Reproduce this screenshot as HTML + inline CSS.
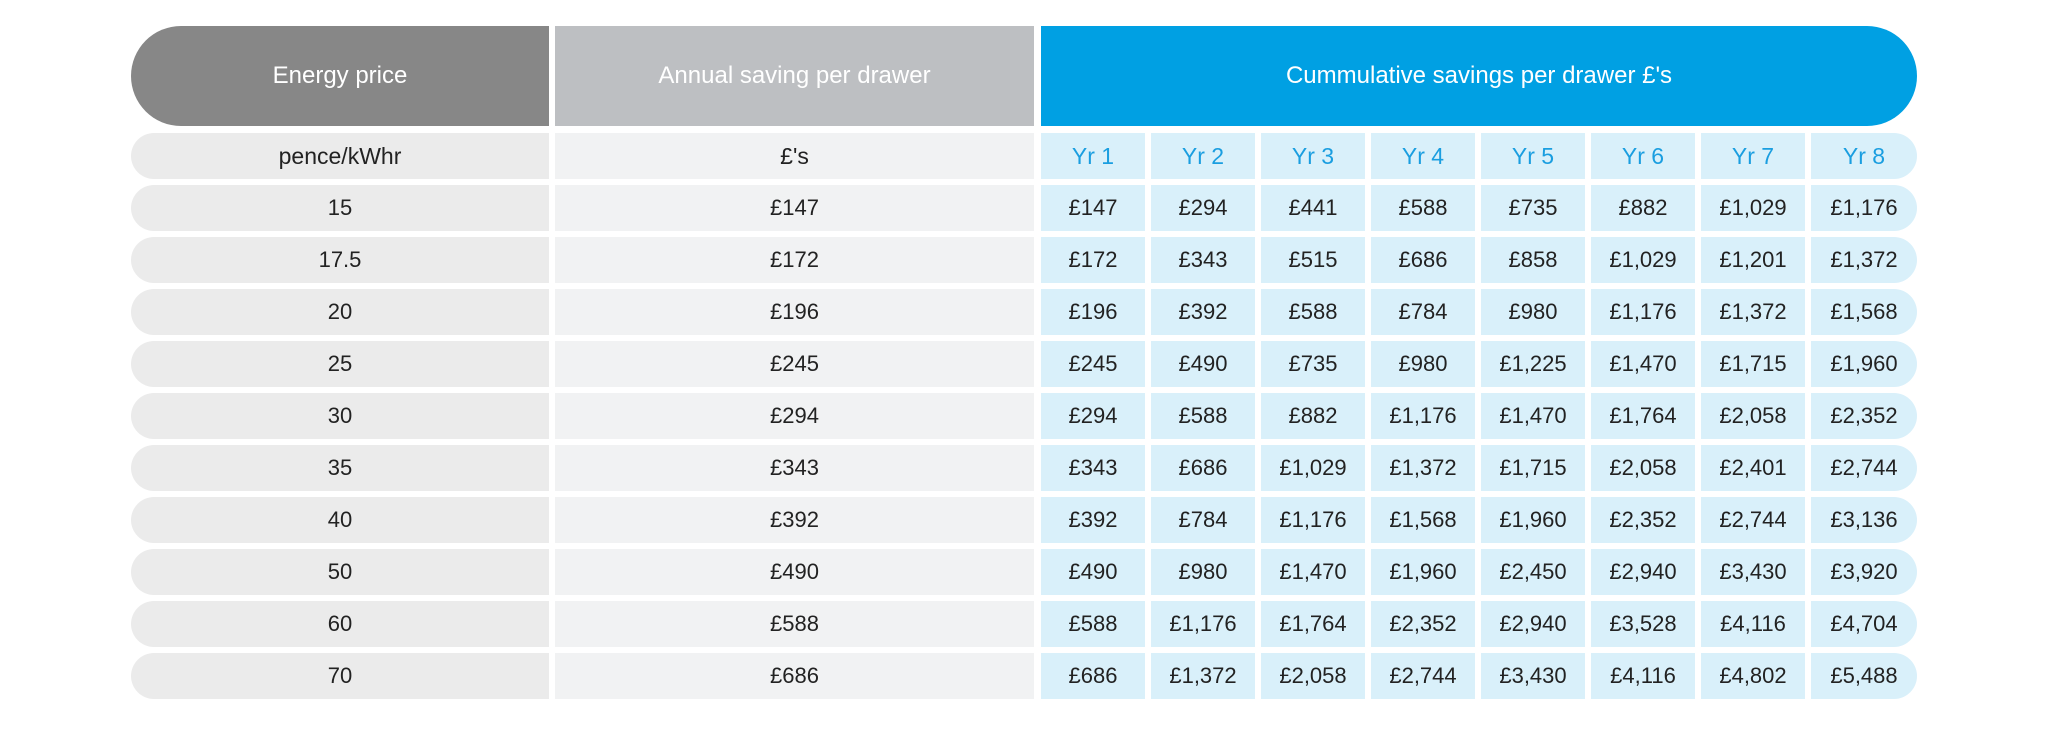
<!DOCTYPE html>
<html><head><meta charset="utf-8"><style>
body{margin:0;width:2048px;height:742px;background:#fff;position:relative;overflow:hidden;font-family:"Liberation Sans",sans-serif;}
.hd{position:absolute;top:26px;height:100px;color:#fff;font-size:24px;display:flex;align-items:center;justify-content:center;}
.row{position:absolute;left:131px;height:46px;display:flex;font-size:22px;color:#222;}
.row div{height:46px;display:flex;align-items:center;justify-content:center;}
.c1{width:418px;background:#ebebeb;border-radius:23px 0 0 23px;margin-right:6px;}
.c2{width:479px;background:#f1f2f3;margin-right:7px;}
.y{width:104px;background:#d9f0fa;margin-right:6px;}
.y:last-child{margin-right:0;width:106px;border-radius:0 23px 23px 0;}
.yr .y{color:#1a9ee0;font-size:23px;}
</style></head><body>
<div class="hd" style="left:131px;width:418px;background:#878787;border-radius:50px 0 0 50px/50px 0 0 50px;">Energy price</div>
<div class="hd" style="left:555px;width:479px;background:#bdbfc2;">Annual saving per drawer</div>
<div class="hd" style="left:1041px;width:876px;background:#00a0e3;border-radius:0 50px 50px 0;">Cummulative savings per drawer £'s</div>

<div class="row yr" style="top:133px"><div class="c1" style="font-size:23px">pence/kWhr</div><div class="c2" style="font-size:23px">£'s</div><div class="y">Yr 1</div><div class="y">Yr 2</div><div class="y">Yr 3</div><div class="y">Yr 4</div><div class="y">Yr 5</div><div class="y">Yr 6</div><div class="y">Yr 7</div><div class="y">Yr 8</div></div>
<div class="row" style="top:185px"><div class="c1">15</div><div class="c2">£147</div><div class="y">£147</div><div class="y">£294</div><div class="y">£441</div><div class="y">£588</div><div class="y">£735</div><div class="y">£882</div><div class="y">£1,029</div><div class="y">£1,176</div></div>
<div class="row" style="top:237px"><div class="c1">17.5</div><div class="c2">£172</div><div class="y">£172</div><div class="y">£343</div><div class="y">£515</div><div class="y">£686</div><div class="y">£858</div><div class="y">£1,029</div><div class="y">£1,201</div><div class="y">£1,372</div></div>
<div class="row" style="top:289px"><div class="c1">20</div><div class="c2">£196</div><div class="y">£196</div><div class="y">£392</div><div class="y">£588</div><div class="y">£784</div><div class="y">£980</div><div class="y">£1,176</div><div class="y">£1,372</div><div class="y">£1,568</div></div>
<div class="row" style="top:341px"><div class="c1">25</div><div class="c2">£245</div><div class="y">£245</div><div class="y">£490</div><div class="y">£735</div><div class="y">£980</div><div class="y">£1,225</div><div class="y">£1,470</div><div class="y">£1,715</div><div class="y">£1,960</div></div>
<div class="row" style="top:393px"><div class="c1">30</div><div class="c2">£294</div><div class="y">£294</div><div class="y">£588</div><div class="y">£882</div><div class="y">£1,176</div><div class="y">£1,470</div><div class="y">£1,764</div><div class="y">£2,058</div><div class="y">£2,352</div></div>
<div class="row" style="top:445px"><div class="c1">35</div><div class="c2">£343</div><div class="y">£343</div><div class="y">£686</div><div class="y">£1,029</div><div class="y">£1,372</div><div class="y">£1,715</div><div class="y">£2,058</div><div class="y">£2,401</div><div class="y">£2,744</div></div>
<div class="row" style="top:497px"><div class="c1">40</div><div class="c2">£392</div><div class="y">£392</div><div class="y">£784</div><div class="y">£1,176</div><div class="y">£1,568</div><div class="y">£1,960</div><div class="y">£2,352</div><div class="y">£2,744</div><div class="y">£3,136</div></div>
<div class="row" style="top:549px"><div class="c1">50</div><div class="c2">£490</div><div class="y">£490</div><div class="y">£980</div><div class="y">£1,470</div><div class="y">£1,960</div><div class="y">£2,450</div><div class="y">£2,940</div><div class="y">£3,430</div><div class="y">£3,920</div></div>
<div class="row" style="top:601px"><div class="c1">60</div><div class="c2">£588</div><div class="y">£588</div><div class="y">£1,176</div><div class="y">£1,764</div><div class="y">£2,352</div><div class="y">£2,940</div><div class="y">£3,528</div><div class="y">£4,116</div><div class="y">£4,704</div></div>
<div class="row" style="top:653px"><div class="c1">70</div><div class="c2">£686</div><div class="y">£686</div><div class="y">£1,372</div><div class="y">£2,058</div><div class="y">£2,744</div><div class="y">£3,430</div><div class="y">£4,116</div><div class="y">£4,802</div><div class="y">£5,488</div></div>
</body></html>
